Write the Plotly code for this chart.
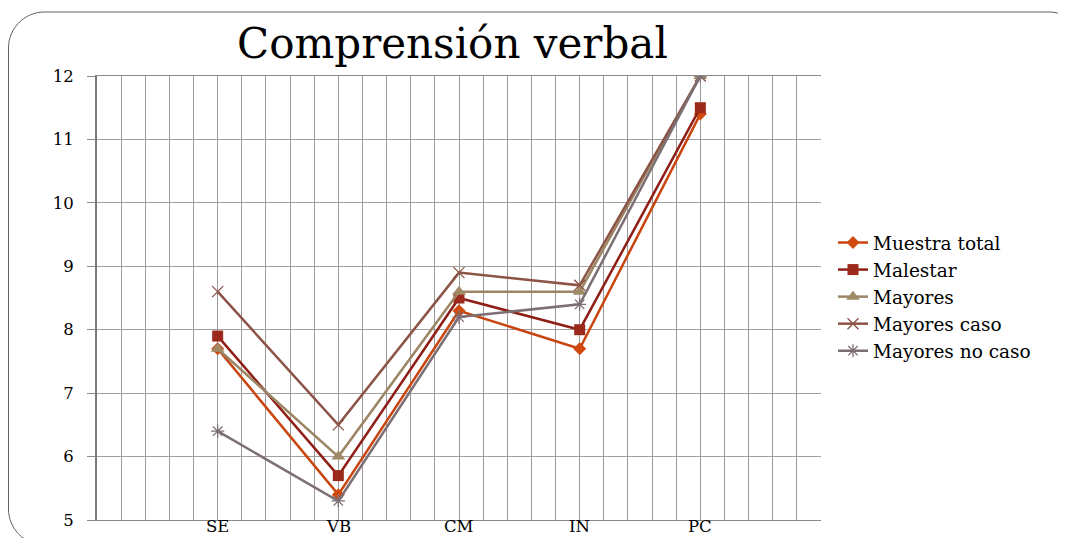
import plotly.graph_objects as go

# page offset (browser body margin) compensation
OFF = 8
W, H = 1066 - OFF, 538 - OFF

categories = ["SE", "VB", "CM", "IN", "PC"]
series_names = ["Muestra total", "Malestar", "Mayores", "Mayores caso", "Mayores no caso"]
muestra_total = [7.7, 5.4, 8.3, 7.7, 11.4]
malestar = [7.9, 5.7, 8.5, 8.0, 11.5]
mayores = [7.7, 6.0, 8.6, 8.6, 12.0]
mayores_caso = [8.6, 6.5, 8.9, 8.7, 12.0]
mayores_no_caso = [6.4, 5.3, 8.2, 8.4, 12.0]
y_ticks = [5, 6, 7, 8, 9, 10, 11, 12]

series_values = [muestra_total, malestar, mayores, mayores_caso, mayores_no_caso]
line_colors = ["#C8450F", "#8E1E16", "#9C8564", "#8B5446", "#7D7074"]
marker_styles = [
    dict(symbol="diamond", size=10, color="#D04A10", line=dict(width=0)),
    dict(symbol="square", size=11, color="#9B2A1C", line=dict(width=0)),
    dict(symbol="triangle-up", size=12, color="#A08A66", line=dict(width=0)),
    dict(symbol="x-thin-open", size=11, color="#8B5446", line=dict(width=1.3, color="#8B5446")),
    dict(symbol="asterisk-open", size=11, color="#7D7074", line=dict(width=1.3, color="#7D7074")),
]

x_pos = [i + 1 for i in range(len(categories))]

fig = go.Figure()
for name, vals, col, mk in zip(series_names, series_values, line_colors, marker_styles):
    fig.add_trace(go.Scatter(
        x=x_pos, y=vals, name=name, mode="lines+markers",
        line=dict(color=col, width=2.5), marker=mk,
    ))


def px_x(v):
    return (v - OFF) / W


def px_y(v):
    return 1 - (v - OFF) / H


# rounded frame (page pixel coordinates)
x0, y0, x1, y1, r = 8.5, 12, 1085, 545, 36
k = 0.5523 * r
path = (
    f"M {px_x(x0)},{px_y(y0 + r)} "
    f"C {px_x(x0)},{px_y(y0 + r - k)} {px_x(x0 + r - k)},{px_y(y0)} {px_x(x0 + r)},{px_y(y0)} "
    f"L {px_x(x1 - r)},{px_y(y0)} "
    f"C {px_x(x1 - r + k)},{px_y(y0)} {px_x(x1)},{px_y(y0 + r - k)} {px_x(x1)},{px_y(y0 + r)} "
    f"L {px_x(x1)},{px_y(y1 - r)} "
    f"C {px_x(x1)},{px_y(y1 - r + k)} {px_x(x1 - r + k)},{px_y(y1)} {px_x(x1 - r)},{px_y(y1)} "
    f"L {px_x(x0 + r)},{px_y(y1)} "
    f"C {px_x(x0 + r - k)},{px_y(y1)} {px_x(x0)},{px_y(y1 - r + k)} {px_x(x0)},{px_y(y1 - r)} Z"
)

font_family = "DejaVu Serif"

annotations = [dict(text="Comprensión verbal", x=px_x(452), y=px_y(44), xref="paper", yref="paper",
                    xanchor="center", yanchor="middle", showarrow=False,
                    font=dict(family=font_family, size=42, color="#000"))]
# category labels under the axis
for xp, cat in zip(x_pos, categories):
    annotations.append(dict(text=cat, x=xp, y=px_y(537.5), xref="x", yref="paper",
                            xanchor="center", yanchor="bottom", showarrow=False,
                            font=dict(family=font_family, size=16.5, color="#000")))

fig.update_layout(
    width=W, height=H,
    margin=dict(l=0, r=0, t=0, b=0, autoexpand=False),
    paper_bgcolor="white", plot_bgcolor="white",
    font=dict(family=font_family, color="#000000", size=17),
    showlegend=True,
    legend=dict(x=px_x(833), y=px_y(297), xanchor="left", yanchor="middle",
                font=dict(family=font_family, size=18.5, color="#000"),
                bgcolor="rgba(0,0,0,0)", tracegroupgap=0, itemwidth=30),
    shapes=[dict(type="path", path=path, xref="paper", yref="paper",
                 line=dict(color="#606060", width=1), layer="below")],
    annotations=annotations,
    xaxis=dict(
        domain=[px_x(97), px_x(821)], range=[0, 6],
        tickmode="array", tickvals=x_pos, ticktext=categories, showticklabels=False,
        showgrid=True, gridcolor="#9A9A9A", gridwidth=1,
        minor=dict(dtick=0.2, tick0=0, showgrid=True, gridcolor="#9A9A9A", gridwidth=1),
        showline=True, linecolor="#8A8A8A", linewidth=1, mirror=True,
        ticks="", zeroline=False, automargin=False,
    ),
    yaxis=dict(
        domain=[px_y(520), px_y(76)], range=[5, 12],
        tickmode="array", tickvals=y_ticks,
        showgrid=True, gridcolor="#A0A0A0", gridwidth=1,
        showline=True, linecolor="#7A7A7A", linewidth=2,
        ticks="outside", ticklen=8, tickcolor="#8A8A8A", tickwidth=1,
        ticklabelstandoff=10,
        zeroline=False, automargin=False,
        tickfont=dict(family=font_family, size=16.5, color="#000"),
    ),
)

fig.write_html("out.html")
